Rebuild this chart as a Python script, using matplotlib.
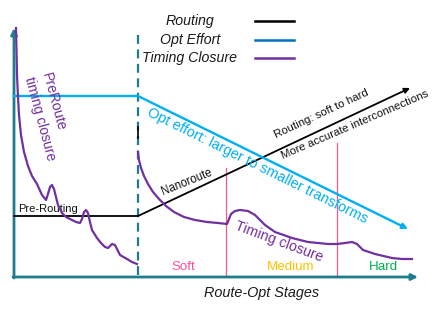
import matplotlib
matplotlib.use("Agg")
import matplotlib.pyplot as plt

plt.rcParams['font.family'] = ['Liberation Sans', 'DejaVu Sans']

# ---- data (diagram coordinates, pixel-like units, y grows downward) ----
routing_x = [14, 138, 410]
routing_y = [216, 216, 88]
effort_x = [14, 138, 408]
effort_y = [96, 96, 229]

timing_pre_x = [16, 16.5, 17, 18, 19, 21, 24, 28, 32, 37, 42, 46, 48, 50, 52, 54, 56, 58, 62,
                66, 70, 76, 80, 82, 84, 86, 88, 90, 92, 97, 101, 105, 108, 110, 112, 115, 117,
                120, 127, 132, 137]
timing_pre_y = [28, 50, 75, 97, 115, 135, 152, 166, 176, 184, 195, 200, 194, 187, 185, 189, 197,
                205, 213, 217, 219, 222, 223, 219, 212, 210, 213, 222, 230, 238, 243, 247, 248,
                246, 244, 245, 249, 255, 259, 262, 264]

timing_post_x = [138, 139, 141, 144, 148, 153, 159, 166, 174, 184, 195, 207, 218, 227, 229, 231,
                 235, 240, 248, 255, 260, 265, 275, 292, 308, 328, 337, 345, 352, 357, 363, 375,
                 392, 402, 412]
timing_post_y = [152, 160, 168, 176, 184, 192, 199, 206, 212, 217, 220, 222, 223, 224, 219, 214,
                 211, 210, 211, 215, 220, 225, 232, 238, 242, 244, 244, 243, 242, 244, 250, 254,
                 258, 259, 259]

stage_bounds = [226, 337]
stage_tops = [168, 143]
stage_labels = ["Soft", "Medium", "Hard"]
stage_label_x = [183, 291, 383]
stage_colors = ["#FF4FA0", "#FFC000", "#00B050"]

legend_labels = ["Routing", "Opt Effort", "Timing Closure"]
legend_colors = ["#000000", "#0070C0", "#7030A0"]
legend_y = [21, 40, 58]

split_x = 138
axis_origin = (14, 277)
axis_x_end = 418
axis_y_end = 28

TEAL = "#1E7C8C"
BLUE = "#00B0F0"
PURPLE = "#7030A0"
PINK = "#EE5A93"

fig = plt.figure(figsize=(4.34, 3.14), dpi=100)
ax = fig.add_axes([0, 0, 1, 1])
ax.set_xlim(0, 434)
ax.set_ylim(314, 0)
ax.axis("off")

# axes arrows
ax.annotate("", xy=(axis_x_end, axis_origin[1]), xytext=(axis_origin[0] - 1, axis_origin[1]),
            arrowprops=dict(arrowstyle='-|>', color=TEAL, lw=2.0, mutation_scale=9,
                            shrinkA=0, shrinkB=0))
ax.annotate("", xy=(axis_origin[0], axis_y_end), xytext=(axis_origin[0], axis_origin[1] + 1),
            arrowprops=dict(arrowstyle='-|>', color=TEAL, lw=2.0, mutation_scale=9,
                            shrinkA=0, shrinkB=0))

# dashed split
ax.plot([split_x, split_x], [35, axis_origin[1]], color=TEAL, lw=1.6,
        dashes=(4, 2.5), zorder=2)
ax.plot([split_x, split_x], [127, 138], color="black", lw=1.2, zorder=2)

# stage boundaries
for bx, top in zip(stage_bounds, stage_tops):
    ax.plot([bx, bx], [top, axis_origin[1]], color=PINK, lw=0.9, zorder=1)

# routing line
ax.plot(routing_x[:2], routing_y[:2], color="black", lw=1.3, zorder=3)
ax.annotate("", xy=(routing_x[2], routing_y[2]), xytext=(routing_x[1], routing_y[1]),
            arrowprops=dict(arrowstyle='-|>', color="black", lw=1.3, mutation_scale=8,
                            shrinkA=0, shrinkB=0), zorder=3)

# opt effort line
ax.plot(effort_x[:2], effort_y[:2], color=BLUE, lw=1.7, zorder=3)
ax.annotate("", xy=(effort_x[2], effort_y[2]), xytext=(effort_x[1], effort_y[1]),
            arrowprops=dict(arrowstyle='-|>', color=BLUE, lw=1.7, mutation_scale=8,
                            shrinkA=0, shrinkB=0), zorder=3)

# timing closure curves
ax.plot(timing_pre_x, timing_pre_y, color=PURPLE, lw=1.6, solid_joinstyle='round', zorder=4)
ax.plot(timing_post_x, timing_post_y, color=PURPLE, lw=1.6, solid_joinstyle='round', zorder=4)

# legend (manual)
for lab, col, ly in zip(legend_labels, legend_colors, legend_y):
    ax.text(190, ly, lab, ha='center', va='center', fontsize=10.2, style='italic',
            color="#1a1a1a")
    ax.plot([255, 294], [ly, ly], color=col, lw=1.8)

# annotations
def rtext(x, y, s, rot, size, color, **kw):
    ax.text(x, y, s, rotation=rot, rotation_mode='anchor', ha='center', va='center',
            fontsize=size, color=color, **kw)

rtext(257, 166, "Opt effort: larger to smaller transforms", -26.3, 10.4, BLUE)
rtext(321, 114, "Routing: soft to hard", 25, 8.2, "#111111")
rtext(355, 125, "More accurate interconnections", 23.3, 8.2, "#111111")
rtext(187, 182, "Nanoroute", 22, 8.3, "#111111")
rtext(48, 209, "Pre-Routing", 0, 8.0, "#111111")
rtext(53, 102, "PreRoute", -75, 10.2, PURPLE)
rtext(40, 119, "timing closure", -75, 10.0, PURPLE)
rtext(279, 242, "Timing closure", -20.5, 10.3, PURPLE)

for lab, lx, col in zip(stage_labels, stage_label_x, stage_colors):
    ax.text(lx, 267, lab, ha='center', va='center', fontsize=9.6, color=col)

ax.text(262, 293, "Route-Opt Stages", ha='center', va='center', fontsize=10.4,
        style='italic', color="#1a1a1a")

fig.savefig("out.png", dpi=100)
